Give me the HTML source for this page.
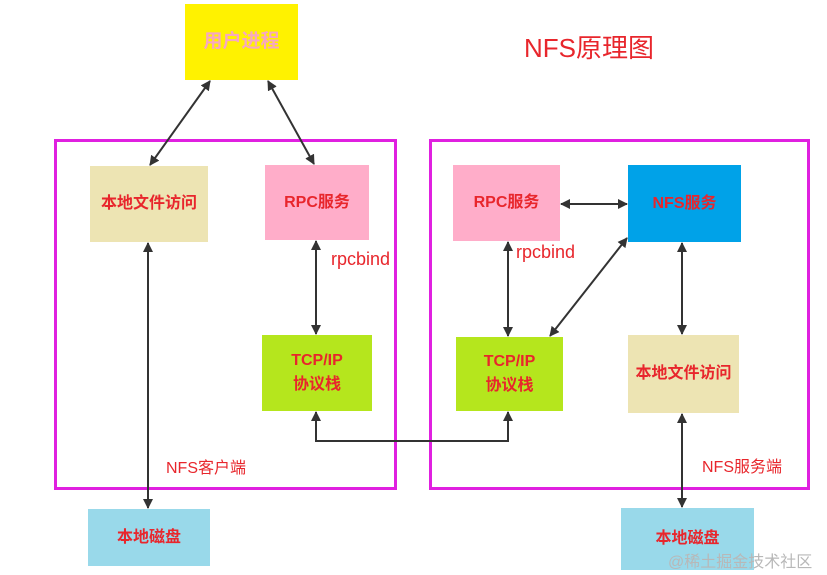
<!DOCTYPE html>
<html><head><meta charset="utf-8"><style>
body{margin:0;width:827px;height:575px;background:#fff;overflow:hidden;position:relative;font-family:"Liberation Sans","Noto Sans CJK SC",sans-serif}
.b{position:absolute;display:flex;align-items:center;justify-content:center;text-align:center;font-weight:bold;color:#e8262c;font-size:16px;line-height:24px}
.t{position:absolute;color:#e8262c;white-space:nowrap}
svg{position:absolute;left:0;top:0}
</style></head><body>
<div class="b" style="left:185px;top:4px;width:113px;height:76px;background:#fff200;color:#f7a8c0;font-size:19px">用户进程</div>
<div style="position:absolute;left:54px;top:139px;width:337px;height:345px;border:3px solid #e020e0"></div>
<div style="position:absolute;left:429px;top:139px;width:375px;height:345px;border:3px solid #e020e0"></div>
<div class="b" style="left:90px;top:166px;width:118px;height:76px;background:#ede4b3">本地文件访问</div>
<div class="b" style="left:265px;top:165px;width:104px;height:75px;background:#ffadc9">RPC服务</div>
<div class="b" style="left:262px;top:335px;width:110px;height:76px;background:#b5e61d">TCP/IP<br>协议栈</div>
<div class="b" style="left:88px;top:509px;width:122px;height:57px;background:#99d9ea">本地磁盘</div>
<div class="b" style="left:453px;top:165px;width:107px;height:76px;background:#ffadc9">RPC服务</div>
<div class="b" style="left:628px;top:165px;width:113px;height:77px;background:#00a2e8">NFS服务</div>
<div class="b" style="left:456px;top:337px;width:107px;height:74px;background:#b5e61d">TCP/IP<br>协议栈</div>
<div class="b" style="left:628px;top:335px;width:111px;height:78px;background:#ede4b3">本地文件访问</div>
<div class="b" style="left:621px;top:508px;width:133px;height:62px;background:#99d9ea">本地磁盘</div>
<div class="t" style="left:524px;top:28px;font-size:26px">NFS原理图</div>
<div class="t" style="left:331px;top:249px;font-size:18px">rpcbind</div>
<div class="t" style="left:516px;top:242px;font-size:18px">rpcbind</div>
<div class="t" style="left:166px;top:454px;font-size:16px">NFS客户端</div>
<div class="t" style="left:702px;top:453px;font-size:16px">NFS服务端</div>
<div class="t" style="left:668px;top:548px;font-size:16px;color:#b8b8b8">@稀土掘金技术社区</div>
<svg width="827" height="575">
<defs><marker id="a" markerWidth="10" markerHeight="10" refX="9" refY="5" orient="auto-start-reverse" markerUnits="userSpaceOnUse"><path d="M0,0L10,5L0,10z" fill="#333"/></marker></defs>
<g stroke="#333" stroke-width="2" fill="none" marker-start="url(#a)" marker-end="url(#a)">
<line x1="210" y1="81" x2="150" y2="165"/>
<line x1="268" y1="81" x2="314" y2="164"/>
<line x1="148" y1="243" x2="148" y2="508"/>
<line x1="316" y1="241" x2="316" y2="334"/>
<line x1="561" y1="204" x2="627" y2="204"/>
<line x1="508" y1="242" x2="508" y2="336"/>
<line x1="627" y1="238" x2="550" y2="336"/>
<line x1="682" y1="243" x2="682" y2="334"/>
<line x1="682" y1="414" x2="682" y2="507"/>
<polyline points="316,412 316,441 508,441 508,412"/>
</g></svg>
</body></html>
